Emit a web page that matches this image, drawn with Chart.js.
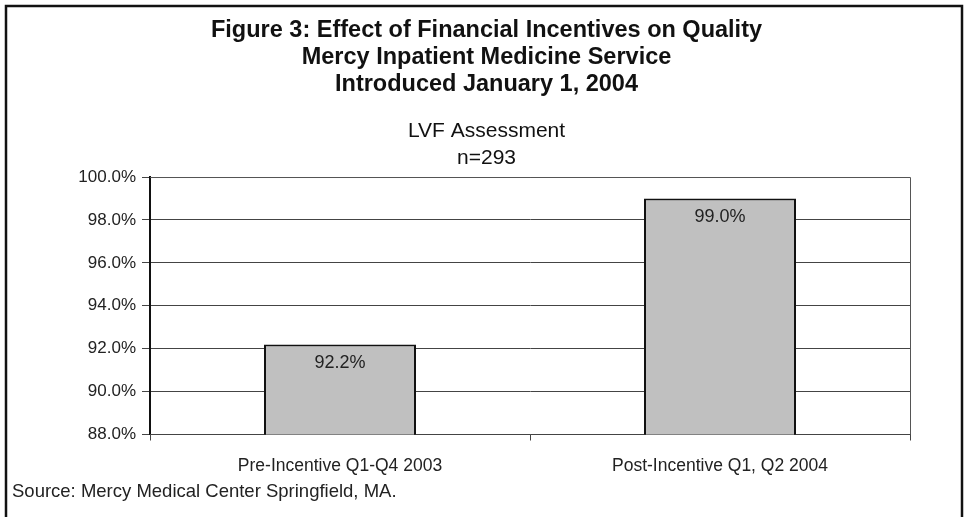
<!DOCTYPE html>
<html>
<head>
<meta charset="utf-8">
<script src="https://cdn.jsdelivr.net/npm/chart.js@4/dist/chart.umd.min.js"></script>
<style>
  html, body { margin: 0; padding: 0; background: #fff; }
  #wrap { width: 967px; height: 517px; position: relative; }
</style>
</head>
<body>
<div id="wrap"><canvas id="c" width="967" height="517"></canvas></div>
<script>
const titleLines = ["Figure 3: Effect of Financial Incentives on Quality", "Mercy Inpatient Medicine Service", "Introduced January 1, 2004"];
const subtitleLines = ["LVF Assessment", "n=293"];
const categories = ["Pre-Incentive Q1-Q4 2003", "Post-Incentive Q1, Q2 2004"];
const values = [92.2, 99.0];
const yMin = 88, yMax = 100, yStep = 2;
const sourceText = "Source: Mercy Medical Center Springfield, MA.";

const FONT = "'Liberation Sans', Arial, Helvetica, sans-serif";

const framePlugin = {
  id: 'frame',
  beforeDraw(chart) {
    const ctx = chart.ctx;
    ctx.save();
    ctx.fillStyle = '#fff';
    ctx.fillRect(0, 0, chart.width, chart.height);
    ctx.restore();
  },
  afterDraw(chart) {
    const ctx = chart.ctx;
    const a = chart.chartArea;
    ctx.save();
    ctx.strokeStyle = '#111';
    ctx.lineWidth = 2.5;
    ctx.strokeRect(6, 6, 956, 530);
    ctx.strokeStyle = '#555';
    ctx.lineWidth = 1;
    ctx.beginPath();
    ctx.moveTo(a.left, a.top + 0.5);
    ctx.lineTo(a.right + 0.5, a.top + 0.5);
    ctx.lineTo(a.right + 0.5, a.bottom);
    ctx.stroke();
    ctx.fillStyle = '#222';
    ctx.font = "18.5px " + FONT;
    ctx.textAlign = 'left';
    ctx.textBaseline = 'middle';
    ctx.fillText(sourceText, 12, 492);
    ctx.restore();
  },
  afterDatasetsDraw(chart) {
    const ctx = chart.ctx;
    const meta = chart.getDatasetMeta(0);
    ctx.save();
    ctx.fillStyle = '#222';
    ctx.font = "18px " + FONT;
    ctx.textAlign = 'center';
    ctx.textBaseline = 'middle';
    meta.data.forEach((bar, i) => {
      ctx.fillText(values[i].toFixed(1) + '%', bar.x, bar.y + 19);
    });
    ctx.restore();
  }
};

new Chart(document.getElementById('c'), {
  type: 'bar',
  data: {
    labels: categories,
    datasets: [{
      data: values,
      backgroundColor: '#c0c0c0',
      borderColor: '#111',
      borderWidth: 2,
      borderSkipped: 'bottom',
      categoryPercentage: 1.0,
      barPercentage: 0.4,
      yAxisID: 'y'
    }]
  },
  options: {
    responsive: false,
    animation: false,
    devicePixelRatio: 1,
    layout: { padding: { left: 6, right: 0, top: 0, bottom: 24.5 } },
    plugins: {
      legend: { display: false },
      tooltip: { enabled: false },
      title: {
        display: true,
        text: titleLines,
        color: '#111',
        font: { family: FONT, size: 23.5, weight: 'bold', lineHeight: 1.149 },
        padding: { top: 17.5, bottom: 19 }
      },
      subtitle: {
        display: true,
        text: subtitleLines,
        color: '#111',
        font: { family: FONT, size: 21, weight: 'normal', lineHeight: 1.286 },
        padding: { top: 0, bottom: 5.5 }
      }
    },
    scales: {
      y: {
        position: 'left',
        min: yMin,
        max: yMax,
        afterFit(scale) { scale.width = 144; },
        border: { display: true, color: '#111', width: 2 },
        grid: { color: '#444', lineWidth: 1, tickLength: 8, drawTicks: true },
        ticks: {
          stepSize: yStep,
          color: '#222',
          padding: 6,
          font: { family: FONT, size: 17 },
          callback: v => Number(v).toFixed(1) + '%'
        }
      },
      yRight: {
        position: 'right',
        display: true,
        afterFit(scale) { scale.width = 57; },
        border: { display: false },
        grid: { display: false, drawOnChartArea: false },
        ticks: { display: false }
      },
      x: {
        offset: true,
        border: { display: true, color: '#444', width: 1 },
        grid: { offset: true, drawOnChartArea: false, drawTicks: true, tickLength: 6, color: '#444' },
        ticks: {
          color: '#222',
          padding: 15.5,
          maxRotation: 0,
          font: { family: FONT, size: 17.5 }
        }
      }
    }
  },
  plugins: [framePlugin]
});
</script>
</body>
</html>
